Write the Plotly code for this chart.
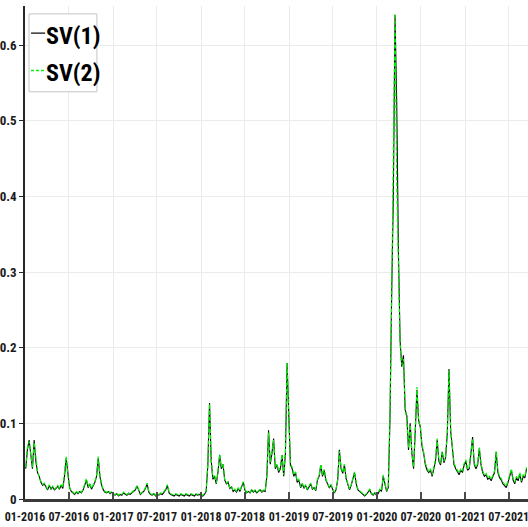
import pandas as pd
import plotly.graph_objects as go

# Weekly observations of the two stochastic-volatility estimates
start_date = "2016-01-04"

sv1_2016 = [0.040, 0.065, 0.078, 0.055, 0.040, 0.078, 0.050, 0.035, 0.030, 0.022,
            0.018, 0.020, 0.015, 0.012, 0.018, 0.013, 0.016, 0.012, 0.014, 0.017,
            0.013, 0.018, 0.014, 0.030, 0.054, 0.030, 0.015, 0.010, 0.008, 0.006,
            0.009, 0.007, 0.010, 0.008, 0.012, 0.018, 0.025, 0.015, 0.020, 0.013,
            0.017, 0.022, 0.030, 0.054, 0.030, 0.018, 0.012, 0.009, 0.008, 0.010,
            0.007, 0.009]
sv1_2017 = [0.006, 0.005, 0.007, 0.004, 0.006, 0.005, 0.008, 0.006, 0.005, 0.007,
            0.006, 0.008, 0.010, 0.012, 0.017, 0.012, 0.006, 0.008, 0.010, 0.014,
            0.020, 0.009, 0.006, 0.005, 0.007, 0.004, 0.006, 0.005, 0.007, 0.006,
            0.009, 0.012, 0.018, 0.008, 0.006, 0.005, 0.004, 0.006, 0.005, 0.004,
            0.006, 0.005, 0.004, 0.006, 0.005, 0.004, 0.006, 0.005, 0.004, 0.006,
            0.005, 0.006]
sv1_2018 = [0.005, 0.004, 0.006, 0.010, 0.045, 0.127, 0.050, 0.026, 0.030, 0.020,
            0.035, 0.058, 0.040, 0.046, 0.025, 0.020, 0.022, 0.014, 0.016, 0.010,
            0.012, 0.009, 0.014, 0.010, 0.016, 0.022, 0.012, 0.008, 0.010, 0.008,
            0.012, 0.009, 0.011, 0.008, 0.010, 0.012, 0.009, 0.011, 0.010, 0.030,
            0.091, 0.046, 0.060, 0.080, 0.040, 0.045, 0.035, 0.040, 0.058, 0.030,
            0.060, 0.180]
sv1_2019 = [0.110, 0.045, 0.040, 0.030, 0.035, 0.022, 0.025, 0.015, 0.020, 0.014,
            0.018, 0.012, 0.016, 0.020, 0.013, 0.015, 0.011, 0.025, 0.030, 0.045,
            0.030, 0.038, 0.025, 0.020, 0.015, 0.018, 0.012, 0.008, 0.012, 0.025,
            0.065, 0.040, 0.034, 0.045, 0.027, 0.020, 0.012, 0.018, 0.025, 0.035,
            0.020, 0.012, 0.010, 0.008, 0.006, 0.004, 0.006, 0.009, 0.012, 0.007,
            0.005, 0.008]
sv1_2020 = [0.005, 0.007, 0.012, 0.010, 0.030, 0.020, 0.010, 0.015, 0.105, 0.270,
            0.400, 0.640, 0.524, 0.330, 0.210, 0.175, 0.190, 0.118, 0.110, 0.065,
            0.100, 0.060, 0.040, 0.090, 0.144, 0.104, 0.095, 0.070, 0.060, 0.045,
            0.038, 0.035, 0.038, 0.030, 0.040, 0.050, 0.078, 0.050, 0.045, 0.062,
            0.048, 0.055, 0.087, 0.172, 0.090, 0.070, 0.045, 0.040, 0.035, 0.032,
            0.038, 0.035]
sv1_2021 = [0.045, 0.050, 0.038, 0.040, 0.060, 0.082, 0.045, 0.040, 0.045, 0.067,
            0.045, 0.035, 0.030, 0.032, 0.026, 0.028, 0.024, 0.030, 0.035, 0.062,
            0.035, 0.028, 0.025, 0.020, 0.018, 0.015, 0.022, 0.030, 0.038, 0.025,
            0.020, 0.028, 0.024, 0.033, 0.022, 0.030, 0.028, 0.040]

sv2_2016 = [0.042, 0.068, 0.076, 0.058, 0.042, 0.075, 0.052, 0.037, 0.028, 0.024,
            0.019, 0.021, 0.016, 0.013, 0.019, 0.014, 0.017, 0.013, 0.015, 0.018,
            0.014, 0.019, 0.015, 0.032, 0.056, 0.031, 0.016, 0.011, 0.009, 0.007,
            0.010, 0.008, 0.011, 0.009, 0.013, 0.019, 0.027, 0.016, 0.021, 0.014,
            0.018, 0.023, 0.031, 0.056, 0.031, 0.019, 0.013, 0.010, 0.009, 0.011,
            0.008, 0.010]
sv2_2017 = [0.007, 0.006, 0.008, 0.005, 0.007, 0.006, 0.009, 0.007, 0.006, 0.008,
            0.007, 0.009, 0.011, 0.013, 0.018, 0.013, 0.007, 0.009, 0.011, 0.015,
            0.021, 0.010, 0.007, 0.006, 0.008, 0.005, 0.007, 0.006, 0.008, 0.007,
            0.010, 0.013, 0.019, 0.009, 0.007, 0.006, 0.005, 0.007, 0.006, 0.005,
            0.007, 0.006, 0.005, 0.007, 0.006, 0.005, 0.007, 0.006, 0.005, 0.007,
            0.006, 0.007]
sv2_2018 = [0.006, 0.005, 0.007, 0.011, 0.047, 0.126, 0.052, 0.028, 0.032, 0.021,
            0.037, 0.059, 0.042, 0.047, 0.026, 0.021, 0.023, 0.015, 0.017, 0.011,
            0.013, 0.010, 0.015, 0.011, 0.017, 0.023, 0.013, 0.009, 0.011, 0.009,
            0.013, 0.010, 0.012, 0.009, 0.011, 0.013, 0.010, 0.012, 0.011, 0.032,
            0.088, 0.048, 0.062, 0.078, 0.042, 0.047, 0.037, 0.042, 0.059, 0.032,
            0.062, 0.180]
sv2_2019 = [0.108, 0.047, 0.042, 0.032, 0.036, 0.024, 0.026, 0.016, 0.021, 0.015,
            0.019, 0.013, 0.017, 0.021, 0.014, 0.016, 0.012, 0.026, 0.031, 0.046,
            0.032, 0.039, 0.026, 0.021, 0.016, 0.019, 0.013, 0.009, 0.013, 0.026,
            0.063, 0.042, 0.035, 0.046, 0.028, 0.021, 0.013, 0.019, 0.026, 0.036,
            0.021, 0.013, 0.011, 0.009, 0.007, 0.005, 0.007, 0.010, 0.013, 0.008,
            0.006, 0.009]
sv2_2020 = [0.006, 0.008, 0.013, 0.011, 0.032, 0.021, 0.011, 0.016, 0.110, 0.265,
            0.420, 0.642, 0.420, 0.320, 0.205, 0.178, 0.185, 0.122, 0.105, 0.068,
            0.098, 0.062, 0.042, 0.092, 0.148, 0.102, 0.097, 0.072, 0.062, 0.047,
            0.040, 0.036, 0.040, 0.032, 0.042, 0.052, 0.080, 0.052, 0.047, 0.063,
            0.050, 0.057, 0.088, 0.170, 0.092, 0.072, 0.047, 0.042, 0.037, 0.034,
            0.040, 0.037]
sv2_2021 = [0.047, 0.052, 0.040, 0.042, 0.062, 0.080, 0.047, 0.042, 0.047, 0.068,
            0.047, 0.037, 0.032, 0.034, 0.028, 0.030, 0.026, 0.032, 0.037, 0.063,
            0.037, 0.030, 0.027, 0.022, 0.020, 0.017, 0.024, 0.032, 0.040, 0.027,
            0.022, 0.030, 0.026, 0.035, 0.024, 0.032, 0.030, 0.042]

sv1 = sv1_2016 + sv1_2017 + sv1_2018 + sv1_2019 + sv1_2020 + sv1_2021
sv2 = sv2_2016 + sv2_2017 + sv2_2018 + sv2_2019 + sv2_2020 + sv2_2021
dates = pd.date_range(start_date, periods=len(sv1), freq="7D")

x_ticks = pd.date_range("2016-01-01", "2021-07-01", freq="6MS")
x_ticktext = [d.strftime("%m-%Y") for d in x_ticks]
y_ticks = [0, 0.1, 0.2, 0.3, 0.4, 0.5, 0.6]
y_ticktext = ["0", "0.1", "0.2", "0.3", "0.4", "0.5", "0.6"]
legend_names = ["SV(1)", "SV(2)"]

FONT = "Roboto Condensed, Liberation Sans, sans-serif"
AXIS = "#262626"

fig = go.Figure()
fig.add_trace(go.Scatter(x=dates, y=sv1, mode="lines", name=legend_names[0],
                         line=dict(color="#000000", width=1.1), showlegend=False))
fig.add_trace(go.Scatter(x=dates, y=sv2, mode="lines", name=legend_names[1],
                         line=dict(color="#00ee00", width=1.2, dash="4px,2px"),
                         showlegend=False))

# Compact boxed legend in the upper-left corner
shapes = [
    dict(type="rect", xref="paper", yref="paper", x0=0.008, x1=0.143, y0=0.826, y1=0.984,
         fillcolor="white", line=dict(color="#c4c4c4", width=1), layer="above"),
    dict(type="line", xref="paper", yref="paper", x0=0.012, x1=0.040, y0=0.945, y1=0.945,
         line=dict(color="#000000", width=1.2), layer="above"),
    dict(type="line", xref="paper", yref="paper", x0=0.012, x1=0.038, y0=0.869, y1=0.869,
         line=dict(color="#00ee00", width=1.5, dash="3px,2px"), layer="above"),
]
annotations = [
    dict(text="<b>%s</b>" % legend_names[0], xref="paper", yref="paper", x=0.038, y=0.939,
         xanchor="left", yanchor="middle", showarrow=False,
         font=dict(family=FONT, size=24, color="#000000")),
    dict(text="<b>%s</b>" % legend_names[1], xref="paper", yref="paper", x=0.038, y=0.864,
         xanchor="left", yanchor="middle", showarrow=False,
         font=dict(family=FONT, size=24, color="#000000")),
]

fig.update_layout(
    width=528, height=527,
    margin=dict(l=25, r=0, t=6, b=28),
    paper_bgcolor="white", plot_bgcolor="white",
    font=dict(family=FONT, size=13, color=AXIS),
    shapes=shapes, annotations=annotations,
    xaxis=dict(
        range=["2016-01-01", "2021-09-19"], automargin=False,
        tickmode="array", tickvals=x_ticks, ticktext=x_ticktext, tickangle=0,
        ticklabeloverflow="allow", ticklabelstandoff=5,
        ticks="inside", ticklen=7, tickwidth=1.5, tickcolor="#4a4a4a",
        showline=True, linecolor="#3a3a3a", linewidth=2.5,
        showgrid=True, gridcolor="#ebebeb", gridwidth=1, zeroline=False,
        tickfont=dict(family=FONT, size=12, color="#1a1a1a", weight="bold"),
    ),
    yaxis=dict(
        range=[0, 0.652], automargin=False,
        tickmode="array", tickvals=y_ticks, ticktext=y_ticktext,
        ticks="outside", ticklen=4, tickwidth=1.2, tickcolor=AXIS,
        showline=True, linecolor=AXIS, linewidth=1.5,
        showgrid=True, gridcolor="#ebebeb", gridwidth=1, zeroline=False,
        tickfont=dict(family=FONT, size=13, color="#1a1a1a", weight="bold"),
    ),
)

fig.write_html("out.html")
